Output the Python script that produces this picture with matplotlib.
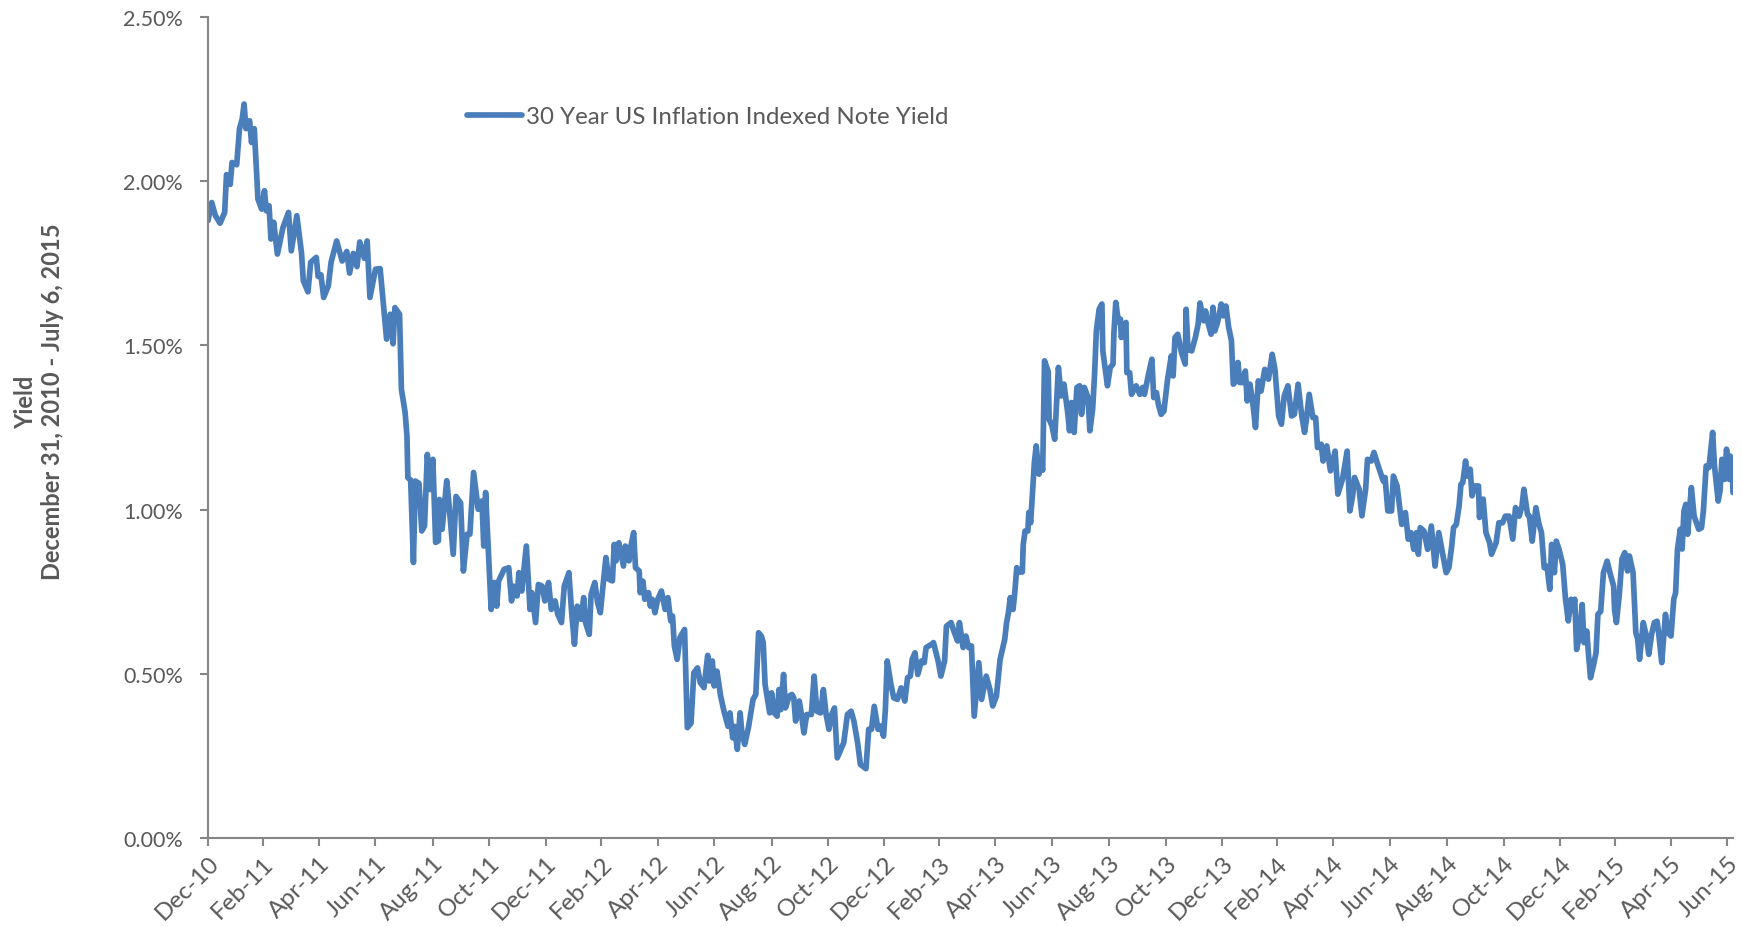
import matplotlib
matplotlib.use("Agg")
import matplotlib.pyplot as plt
import matplotlib.dates as mdates
from matplotlib.ticker import FuncFormatter
import numpy as np
import pandas as pd

plt.rcParams['font.family'] = ['Lato', 'DejaVu Sans']

start_date = '2010-12-31'
end_date = '2015-07-06'
series_name = '30 Year US Inflation Indexed Note Yield'
axis_title = 'Yield\nDecember 31, 2010 - July 6, 2015'

# observation dates as days after 31 Dec 2010, yield in percent
days = [0, 4, 8, 13, 18, 20, 24, 26, 31, 34, 37, 39, 41, 45, 47, 50, 54, 58, 61, 63,
        66, 68, 71, 75, 81, 87, 90, 96, 101, 103, 108, 111, 117, 119, 122, 125, 130, 133, 139, 145,
        150, 153, 157, 161, 164, 169, 172, 175, 181, 186, 193, 197, 200, 202, 207, 209, 213, 215, 216, 219,
        222, 224, 228, 231, 234, 237, 240, 243, 246, 249, 250, 253, 258, 260, 265, 268, 273, 276, 280, 283,
        287, 292, 296, 298, 300, 306, 309, 312, 314, 320, 325, 328, 330, 334, 336, 339, 344, 348, 350, 354,
        357, 361, 364, 368, 371, 375, 378, 382, 385, 390, 393, 396, 399, 403, 406, 408, 412, 414, 418, 421,
        424, 427, 430, 433, 437, 439, 441, 444, 449, 451, 455, 457, 460, 462, 466, 467, 470, 472, 476, 478,
        480, 483, 486, 490, 494, 497, 500, 502, 504, 507, 510, 515, 518, 522, 525, 529, 532, 536, 540, 542,
        545, 547, 550, 554, 558, 562, 564, 567, 569, 572, 575, 577, 580, 584, 589, 592, 595, 598, 600, 602,
        607, 609, 612, 615, 617, 619, 622, 624, 628, 631, 633, 635, 639, 641, 644, 647, 652, 655, 658, 662,
        665, 668, 671, 674, 677, 680, 683, 687, 691, 695, 698, 702, 705, 711, 714, 717, 720, 724, 727, 730,
        732, 734, 738, 741, 745, 749, 753, 756, 759, 761, 764, 767, 771, 774, 776, 782, 784, 789, 792, 796,
        798, 803, 806, 810, 812, 816, 819, 822, 825, 828, 833, 836, 841, 845, 848, 852, 856, 861, 863, 865,
        867, 870, 872, 874, 877, 880, 881, 883, 886, 887, 889, 891, 893, 895, 898, 900, 902, 904, 908, 909,
        912, 915, 919, 922, 925, 929, 931, 933, 936, 939, 942, 944, 947, 951, 953, 956, 958, 960, 963, 966,
        967, 972, 975, 978, 979, 981, 984, 986, 987, 990, 992, 993, 996, 998, 1003, 1007, 1010, 1012, 1016, 1020,
        1022, 1025, 1027, 1030, 1033, 1037, 1041, 1043, 1045, 1048, 1052, 1056, 1057, 1059, 1063, 1067, 1070, 1072, 1076, 1078,
        1081, 1084, 1086, 1088, 1091, 1095, 1097, 1100, 1103, 1106, 1108, 1111, 1113, 1115, 1118, 1121, 1123, 1126, 1129, 1132,
        1135, 1138, 1142, 1146, 1150, 1153, 1157, 1160, 1163, 1167, 1171, 1174, 1178, 1182, 1185, 1187, 1190, 1194, 1197, 1199,
        1203, 1205, 1209, 1213, 1218, 1221, 1226, 1231, 1234, 1237, 1239, 1244, 1247, 1251, 1253, 1257, 1260, 1264, 1267, 1270,
        1272, 1275, 1279, 1281, 1285, 1290, 1294, 1297, 1300, 1303, 1306, 1308, 1310, 1314, 1318, 1322, 1326, 1330, 1334, 1338,
        1341, 1344, 1346, 1349, 1352, 1354, 1356, 1359, 1361, 1364, 1366, 1369, 1373, 1374, 1378, 1381, 1385, 1387, 1392, 1395,
        1399, 1402, 1406, 1410, 1413, 1417, 1420, 1422, 1426, 1428, 1431, 1435, 1438, 1441, 1444, 1447, 1450, 1452, 1455, 1457,
        1460, 1464, 1467, 1470, 1473, 1475, 1477, 1479, 1482, 1485, 1487, 1490, 1492, 1494, 1497, 1500, 1502, 1505, 1508, 1512,
        1515, 1519, 1520, 1522, 1525, 1528, 1531, 1534, 1536, 1540, 1543, 1545, 1547, 1551, 1554, 1557, 1560, 1563, 1566, 1568,
        1571, 1575, 1578, 1581, 1584, 1586, 1588, 1591, 1593, 1595, 1597, 1599, 1603, 1606, 1611, 1614, 1616, 1619, 1622, 1626,
        1628, 1632, 1634, 1636, 1639, 1641, 1644, 1645, 1647, 1648]

yield_pct = [1.88, 1.935, 1.895, 1.872, 1.905, 2.02, 1.99, 2.057, 2.05, 2.159, 2.19, 2.235, 2.16, 2.184, 2.118, 2.16, 1.945, 1.915, 1.971, 1.91,
             1.925, 1.824, 1.875, 1.778, 1.859, 1.905, 1.788, 1.895, 1.783, 1.697, 1.663, 1.753, 1.768, 1.71, 1.715, 1.646, 1.681, 1.753, 1.818, 1.757,
             1.786, 1.72, 1.78, 1.74, 1.815, 1.765, 1.818, 1.646, 1.732, 1.734, 1.519, 1.595, 1.505, 1.615, 1.595, 1.367, 1.296, 1.224, 1.097, 1.09,
             0.839, 1.087, 1.08, 0.935, 0.95, 1.168, 1.061, 1.153, 0.9, 0.905, 1.031, 0.94, 1.088, 1.031, 0.864, 1.04, 1.02, 0.813, 0.925, 0.925,
             1.113, 1.001, 1.026, 0.889, 1.052, 0.696, 0.778, 0.706, 0.782, 0.818, 0.823, 0.722, 0.767, 0.737, 0.808, 0.752, 0.889, 0.696, 0.747, 0.656,
             0.772, 0.767, 0.722, 0.778, 0.696, 0.722, 0.681, 0.656, 0.767, 0.808, 0.686, 0.59, 0.706, 0.666, 0.732, 0.656, 0.62, 0.742, 0.778, 0.717,
             0.686, 0.772, 0.854, 0.788, 0.783, 0.894, 0.844, 0.899, 0.828, 0.889, 0.844, 0.889, 0.93, 0.823, 0.813, 0.747, 0.782, 0.727, 0.747, 0.706,
             0.727, 0.686, 0.727, 0.752, 0.696, 0.732, 0.661, 0.676, 0.584, 0.544, 0.61, 0.635, 0.336, 0.35, 0.503, 0.518, 0.473, 0.458, 0.556, 0.478,
             0.539, 0.463, 0.508, 0.432, 0.381, 0.34, 0.381, 0.305, 0.34, 0.27, 0.381, 0.32, 0.285, 0.336, 0.422, 0.437, 0.625, 0.615, 0.595, 0.468,
             0.381, 0.442, 0.381, 0.371, 0.452, 0.391, 0.498, 0.396, 0.432, 0.437, 0.427, 0.356, 0.417, 0.381, 0.32, 0.376, 0.376, 0.493, 0.386, 0.381,
             0.452, 0.376, 0.331, 0.376, 0.396, 0.244, 0.264, 0.29, 0.376, 0.386, 0.356, 0.29, 0.224, 0.211, 0.331, 0.331, 0.401, 0.331, 0.341, 0.31,
             0.391, 0.539, 0.468, 0.427, 0.422, 0.457, 0.417, 0.488, 0.493, 0.544, 0.564, 0.498, 0.539, 0.534, 0.58, 0.59, 0.595, 0.539, 0.493, 0.539,
             0.645, 0.656, 0.63, 0.6, 0.656, 0.58, 0.615, 0.58, 0.585, 0.371, 0.534, 0.422, 0.493, 0.452, 0.402, 0.432, 0.544, 0.605, 0.656, 0.686,
             0.732, 0.696, 0.752, 0.823, 0.81, 0.81, 0.894, 0.935, 0.935, 0.991, 0.96, 1.052, 1.143, 1.194, 1.108, 1.153, 1.12, 1.453, 1.42, 1.275,
             1.255, 1.214, 1.433, 1.346, 1.382, 1.296, 1.24, 1.326, 1.235, 1.372, 1.377, 1.29, 1.372, 1.341, 1.24, 1.306, 1.407, 1.544, 1.61, 1.626,
             1.483, 1.377, 1.433, 1.443, 1.539, 1.631, 1.57, 1.58, 1.524, 1.56, 1.57, 1.417, 1.417, 1.351, 1.377, 1.351, 1.372, 1.351, 1.407, 1.458,
             1.341, 1.356, 1.321, 1.29, 1.3, 1.397, 1.468, 1.407, 1.524, 1.534, 1.478, 1.443, 1.61, 1.488, 1.483, 1.524, 1.565, 1.629, 1.575, 1.605,
             1.565, 1.534, 1.616, 1.544, 1.57, 1.626, 1.59, 1.62, 1.555, 1.514, 1.382, 1.392, 1.448, 1.387, 1.387, 1.422, 1.331, 1.382, 1.326, 1.25,
             1.392, 1.361, 1.427, 1.397, 1.473, 1.427, 1.285, 1.26, 1.346, 1.377, 1.285, 1.29, 1.382, 1.285, 1.235, 1.275, 1.351, 1.28, 1.28, 1.189,
             1.199, 1.148, 1.194, 1.118, 1.178, 1.047, 1.093, 1.178, 0.996, 1.042, 1.098, 1.062, 0.981, 1.062, 1.153, 1.148, 1.174, 1.138, 1.113, 1.087,
             1.098, 0.996, 0.996, 1.102, 1.072, 0.955, 0.991, 0.91, 0.93, 0.879, 0.93, 0.864, 0.945, 0.935, 0.879, 0.95, 0.828, 0.93, 0.869, 0.808,
             0.823, 0.889, 0.945, 0.955, 1.011, 1.077, 1.082, 1.148, 1.102, 1.123, 1.042, 1.072, 1.072, 0.976, 1.032, 0.93, 0.899, 0.864, 0.899, 0.96,
             0.96, 0.98, 0.98, 0.91, 1.006, 0.98, 1.011, 1.062, 0.985, 0.98, 0.904, 1.006, 0.96, 0.93, 0.823, 0.828, 0.757, 0.894, 0.808, 0.904,
             0.879, 0.833, 0.727, 0.661, 0.727, 0.696, 0.727, 0.574, 0.615, 0.711, 0.595, 0.63, 0.554, 0.488, 0.523, 0.564, 0.681, 0.69, 0.808, 0.843,
             0.808, 0.767, 0.696, 0.656, 0.737, 0.849, 0.869, 0.813, 0.859, 0.808, 0.625, 0.605, 0.544, 0.656, 0.62, 0.559, 0.62, 0.656, 0.66, 0.615,
             0.534, 0.681, 0.625, 0.615, 0.727, 0.747, 0.879, 0.94, 0.88, 0.996, 1.016, 0.925, 1.067, 0.98, 0.94, 0.945, 0.996, 1.133, 1.128, 1.235,
             1.133, 1.026, 1.057, 1.153, 1.092, 1.184, 1.092, 1.163, 1.133, 1.052]

dates = pd.Timestamp(start_date) + pd.to_timedelta(days, unit='D')
tick_dates = pd.date_range(start_date, '2015-06-30', freq='2ME')

line_color = '#4A7EBB'
axis_color = '#868686'
text_color = '#595959'

fig = plt.figure(figsize=(17.42, 9.28), dpi=100)
ax = fig.add_axes([208 / 1742, 89 / 928, (1733 - 208) / 1742, (839 - 18) / 928])

ax.plot(dates, yield_pct, color=line_color, lw=4.1, solid_joinstyle='round',
        solid_capstyle='round', label=series_name)

ax.set_xlim(pd.Timestamp(start_date), pd.Timestamp(end_date))
ax.set_ylim(0, 2.5)
ax.set_yticks(np.arange(0, 2.51, 0.5))
ax.yaxis.set_major_formatter(FuncFormatter(lambda v, _: f'{v:.2f}%'))
ax.set_xticks(tick_dates)
ax.xaxis.set_major_formatter(mdates.DateFormatter('%b-%y'))

for side in ['top', 'right']:
    ax.spines[side].set_visible(False)
for side in ['left', 'bottom']:
    ax.spines[side].set_color(axis_color)
    ax.spines[side].set_linewidth(1.5)

ax.tick_params(axis='both', colors=axis_color, labelcolor=text_color,
               length=6, width=1.5, direction='out')
ax.tick_params(axis='y', pad=12, labelsize=15.5)
ax.tick_params(axis='x', pad=4, labelsize=17.5)
for lbl in ax.get_xticklabels():
    lbl.set_rotation(45)
    lbl.set_ha('right')
    lbl.set_va('top')
    lbl.set_rotation_mode('anchor')

fig.text(39 / 1742, (928 - 402) / 928, axis_title, rotation=90, ha='center', va='center',
         multialignment='center', fontsize=17, fontweight='bold', color=text_color,
         linespacing=1.25)

ax.legend(loc='center left', bbox_to_anchor=(467 / 1742, (928 - 118) / 928),
          bbox_transform=fig.transFigure, frameon=False, fontsize=17.3,
          handlelength=2.3, handletextpad=0.15, borderpad=0, borderaxespad=0,
          labelcolor=text_color)

fig.savefig('out.png', dpi=100)
